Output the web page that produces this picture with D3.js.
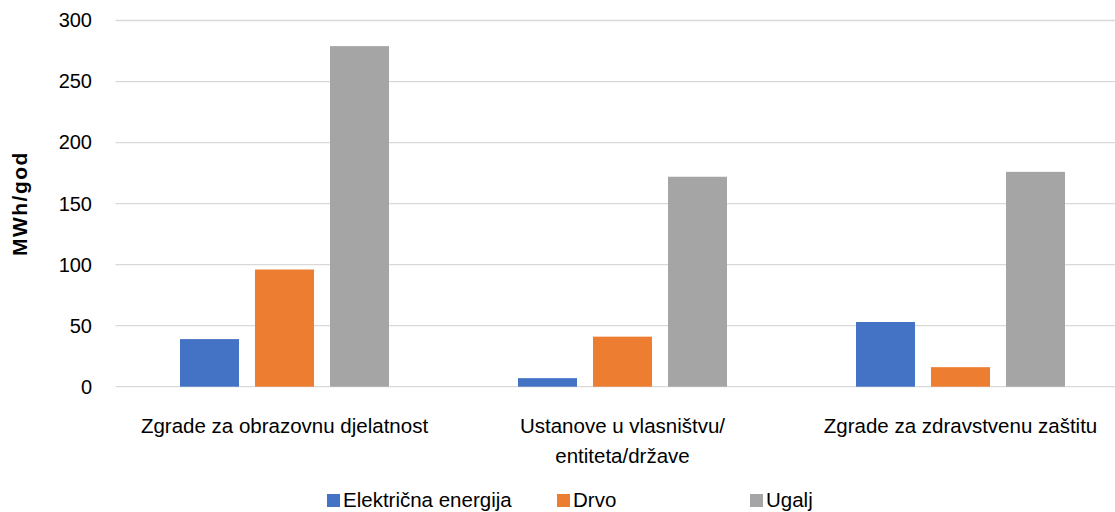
<!DOCTYPE html>
<meta charset="utf-8">
<style>
    body { margin: 0; background: #fff; }
    text { font-family: "Liberation Sans", Arial, sans-serif; fill: #000; }
    .grid line { stroke: #d9d9d9; stroke-width: 1.3; }
    .cat text { font-size: 20.5px; }
    .legend text { font-size: 20.5px; }
</style>
<body>
<script src="https://cdn.jsdelivr.net/npm/d3@7"></script>
<script>

    var categories = ["Zgrade za obrazovnu djelatnost", "Ustanove u vlasništvu/entiteta/države", "Zgrade za zdravstvenu zaštitu"];
    var categoryLines = [["Zgrade za obrazovnu djelatnost"], ["Ustanove u vlasništvu/", "entiteta/države"], ["Zgrade za zdravstvenu zaštitu"]];
    var seriesNames = ["Električna energija", "Drvo", "Ugalj"];
    var elektricna = [39, 7, 53];
    var drvo = [96, 41, 16];
    var ugalj = [279, 172, 176];
    var colors = ["#4472c4", "#ed7d31", "#a5a5a5"];
    var yTicks = [0, 50, 100, 150, 200, 250, 300];

    var width = 1115, height = 512;
    var margin = {top: 20.5, left: 115.5, bottom: 386.7, right: 1129.5};

    var svg = d3.select("body").append("svg")
        .attr("width", width)
        .attr("height", height);

    var x = d3.scaleBand()
        .domain(categories)
        .range([margin.left, margin.right]);

    var xs = d3.scaleBand()
        .domain(seriesNames)
        .range([0, x.bandwidth()])
        .paddingInner(0.213)
        .paddingOuter(0.86);

    var y = d3.scaleLinear()
        .domain([0, 300])
        .range([margin.bottom, margin.top]);

    // gridlines
    svg.append("g").attr("class", "grid")
        .selectAll("line").data(yTicks).enter().append("line")
        .attr("x1", margin.left).attr("x2", width)
        .attr("y1", function(d) { return y(d); })
        .attr("y2", function(d) { return y(d); });

    // y axis labels
    var yAxis = d3.axisLeft(y).tickValues(yTicks).tickSize(0).tickPadding(0);
    var ga = svg.append("g").attr("class", "axis")
        .attr("transform", "translate(92,0)")
        .call(yAxis);
    ga.select(".domain").remove();
    ga.selectAll("text")
        .style("font-size", "20px")
        .style("font-family", "Liberation Sans, Arial, sans-serif")
        .attr("fill", "#000");

    svg.append("text")
        .attr("transform", "translate(27," + y(150) + ") rotate(-90)")
        .attr("text-anchor", "middle")
        .style("font-size", "21px")
        .style("font-weight", "bold")
        .style("letter-spacing", "1.5px")
        .text("MWh/god");

    var series = [elektricna, drvo, ugalj];
    series.forEach(function(vals, si) {
        svg.append("g")
            .selectAll("rect").data(vals).enter().append("rect")
            .attr("x", function(d, i) { return x(categories[i]) + xs(seriesNames[si]); })
            .attr("width", xs.bandwidth())
            .attr("y", function(d) { return y(d); })
            .attr("height", function(d) { return y(0) - y(d); })
            .attr("fill", colors[si]);
    });

    // category labels
    var cat = svg.append("g").attr("class", "cat");
    categories.forEach(function(c, i) {
        var cx = x(c) + x.bandwidth() / 2;
        var t = cat.append("text")
            .attr("text-anchor", "middle")
            .attr("x", cx)
            .attr("y", 433);
        categoryLines[i].forEach(function(line, li) {
            t.append("tspan")
                .attr("x", cx)
                .attr("dy", li === 0 ? 0 : 30)
                .text(line);
        });
    });

    // legend
    var legendX = [327, 557, 750];
    var lg = svg.append("g").attr("class", "legend");
    seriesNames.forEach(function(s, i) {
        lg.append("rect")
            .attr("x", legendX[i]).attr("y", 494)
            .attr("width", 13).attr("height", 13)
            .attr("fill", colors[i]);
        lg.append("text")
            .attr("x", legendX[i] + 16).attr("y", 507)
            .text(s);
    });

</script>
